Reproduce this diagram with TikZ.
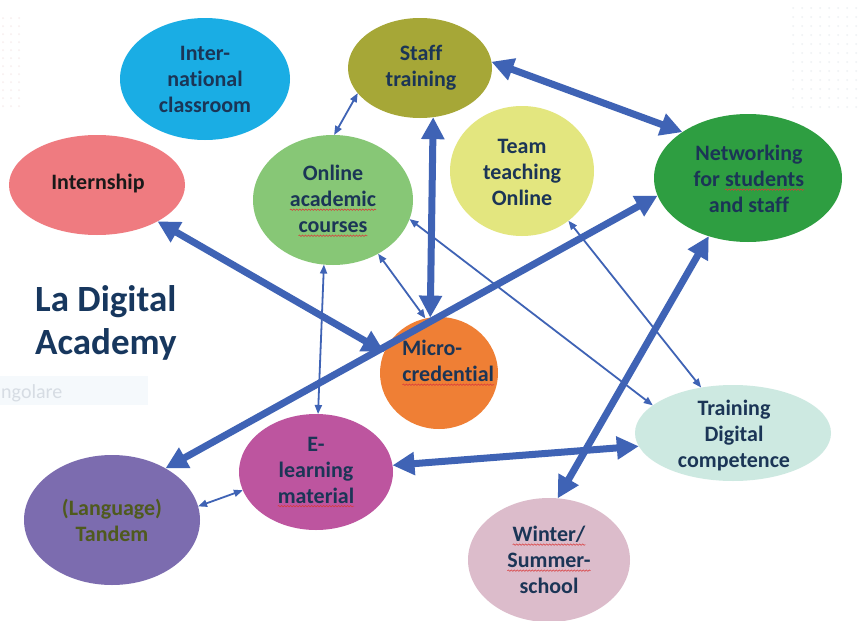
\documentclass[tikz,border=0pt]{standalone}
\usepackage{fontspec}
\setmainfont{Carlito}[Ligatures=NoCommon]
\usetikzlibrary{shapes.geometric,arrows.meta,decorations.pathmorphing}
\definecolor{cIntl}{HTML}{1AADE4}
\definecolor{cStaff}{HTML}{A6A737}
\definecolor{cIntern}{HTML}{EF7B80}
\definecolor{cOnline}{HTML}{87C776}
\definecolor{cTeam}{HTML}{E3E67F}
\definecolor{cNet}{HTML}{2E9E41}
\definecolor{cMicro}{HTML}{EF7F35}
\definecolor{cTrain}{HTML}{CDE9E1}
\definecolor{cElearn}{HTML}{BD559F}
\definecolor{cWinter}{HTML}{DCBCCB}
\definecolor{cTandem}{HTML}{7C6CAF}
\definecolor{arrblue}{HTML}{3F63B5}
\definecolor{txtblue}{HTML}{1B3556}
\definecolor{titleblue}{HTML}{17375E}
\definecolor{tandemtxt}{HTML}{4F5A1E}
\definecolor{squig}{HTML}{D93A3A}
\definecolor{ghostbox}{HTML}{F5F9FC}
\definecolor{ghosttxt}{HTML}{D6DCE3}
\definecolor{dotgray}{HTML}{EEF1F3}
\definecolor{dotpink}{HTML}{F8EEEE}
\newcommand\nolig{\kern0pt{}}
\newcommand\sq[1]{\tikz[baseline=(w.base)]{\node[inner sep=0pt,outer sep=0pt](w){#1};\draw[squig,line width=0.55pt,decorate,decoration={snake,amplitude=0.7pt,segment length=3pt}]([yshift=-3pt]w.base west)--([yshift=-3pt]w.base east);}}
\begin{document}
\begin{tikzpicture}[x=1pt,y=-1pt,
  blob/.style={ellipse,inner sep=0pt,outer sep=0pt,draw=none},
  lbl/.style={align=center,text=txtblue,font=\fontsize{22}{26}\selectfont\bfseries,inner sep=0pt},
  bigarrow/.style={draw=arrblue,line width=7pt,{Triangle[length=22pt,width=22pt]}-{Triangle[length=22pt,width=22pt]}},
  smallarrow/.style={draw=arrblue,line width=1.8pt,{Triangle[length=9pt,width=7pt]}-{Triangle[length=9pt,width=7pt]}}]
\useasboundingbox (0,0) rectangle (860,621);
\clip (0,0) rectangle (860,621);
\fill[white] (0,0) rectangle (860,621);
% faint background dots
\foreach \i in {0,...,7}{\foreach \j in {0,...,11}{\fill[dotgray] (793+\i*9,8+\j*9) circle (1pt);}}
\foreach \i in {0,1,2}{\foreach \j in {0,...,11}{\fill[dotpink] (3+\i*8,18+\j*8) circle (1pt);}}
% ghost box
\fill[ghostbox] (0,376) rectangle (148,405);
\node[anchor=base west,text=ghosttxt,font=\fontsize{20}{24}\selectfont,inner sep=0pt] (ghost) at (1,398) {ngolare};
% ellipses
\node[blob,fill=cIntl,minimum width=170pt,minimum height=122pt] (intl) at (205,79) {};
\node[blob,fill=cStaff,minimum width=144pt,minimum height=100pt] (staff) at (420,68) {};
\node[blob,fill=cIntern,minimum width=176pt,minimum height=100pt] (intern) at (97,185) {};
\node[blob,fill=cOnline,minimum width=160pt,minimum height=130pt] (online) at (333,200) {};
\node[blob,fill=cTeam,minimum width=144pt,minimum height=130pt] (team) at (522,171) {};
\node[blob,fill=cNet,minimum width=188pt,minimum height=128pt] (net) at (748,178) {};
\node[blob,fill=cMicro,minimum width=118pt,minimum height=112pt] (micro) at (439,373) {};
\node[blob,fill=cTrain,minimum width=196pt,minimum height=96pt] (train) at (733,433) {};
\node[blob,fill=cElearn,minimum width=154pt,minimum height=116pt] (elearn) at (316,472) {};
\node[blob,fill=cWinter,minimum width=162pt,minimum height=124pt] (winter) at (549,560) {};
\node[blob,fill=cTandem,minimum width=176pt,minimum height=130pt] (tandem) at (112,520) {};
% labels
\node[lbl] (intlT) at (205,79) {Inter-\\nat\nolig ional\\classroom};
\node[lbl] (staffT) at (421,68) {Staf\nolig f\\training};
\node[lbl,text=black!90] (internT) at (98,184) {Internship};
\node[lbl] (onlineT) at (333,201) {Online\\\sq{academic}\\\sq{courses}};
\node[lbl] (teamT) at (522,172) {Team\\teaching\\Online};
\node[lbl] (netT) at (749,179) {Networking\\for \sq{students}\\and staf\nolig f};
\node[lbl,align=left,anchor=west] (microT) at (402,363) {Micro-\\\sq{credent\nolig ial}};
\node[lbl] (trainT) at (734,436) {Training\\Digital\\competence};
\node[lbl] (elearnT) at (316,472) {E-\\learning\\\sq{material}};
\node[lbl] (winterT) at (549,560) {\sq{Winter/}\\\sq{Summer-}\\school};
\node[lbl,text=tandemtxt] (tandemT) at (112,520) {(Language)\\Tandem};
\node[align=left,anchor=west,text=titleblue,font=\fontsize{37}{43}\selectfont\bfseries,inner sep=0pt] (title) at (35,323) {La Digital\\Academy};
% thin connectors
\draw[smallarrow] (online.89) -- (staff.202);
\draw[smallarrow] (online.-98) -- (elearn.88);
\draw[smallarrow] (online.-50) -- (micro.104);
\draw[smallarrow] (online.-14) -- (train.161);
\draw[smallarrow] (team.-47) -- (train.125);
\draw[smallarrow] (tandem.9) -- (elearn.194);
% thick connectors
\draw[bigarrow] (staff.5) -- (net.145);
\draw[bigarrow] (staff.-75) -- (micro.99);
\draw[bigarrow] (intern.-31) -- (micro.159);
\draw[bigarrow] (net.191) -- (tandem.44);
\draw[bigarrow] (elearn.5) -- (train.188);
\draw[bigarrow] (net.-124) -- (winter.82);
\end{tikzpicture}
\end{document}
